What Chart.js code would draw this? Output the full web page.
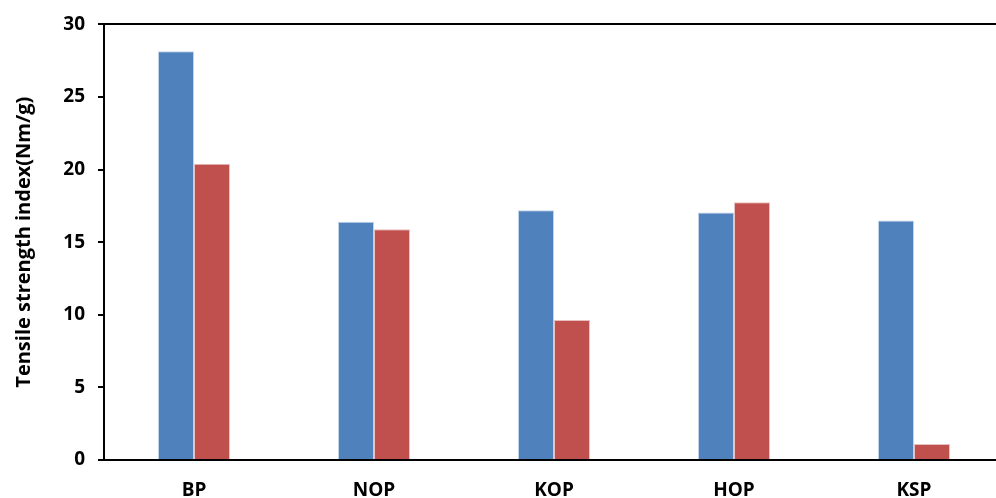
<!DOCTYPE html>
<html>
<head>
<meta charset="utf-8">
<script src="https://cdn.jsdelivr.net/npm/chart.js@4"></script>
<style>
  html, body { margin: 0; padding: 0; background: #fff; overflow: hidden; }
  #wrap { width: 1004px; height: 498px; }
</style>
</head>
<body>
<div id="wrap"><canvas id="grafica"></canvas></div>
<script>
// datos
var categorias = ['BP', 'NOP', 'KOP', 'HOP', 'KSP'];
var serieAzul = [28.15, 16.4, 17.2, 17.05, 16.5];
var serieRoja = [20.4, 15.9, 9.65, 17.75, 1.1];
var ticksY = [0, 5, 10, 15, 20, 25, 30];

var fuente = '"Open Sans", "Noto Sans", sans-serif';

var ctx = document.getElementById('grafica').getContext('2d');
var grafica = new Chart(ctx, {
    type: 'bar',
    data: {
        labels: categorias,
        datasets: [{
            label: 'Serie 1',
            data: serieAzul,
            backgroundColor: '#4F81BD',
            borderColor: 'rgba(185, 205, 229, 0.9)',
            borderWidth: 1,
            categoryPercentage: 0.4,
            barPercentage: 1.0
        }, {
            label: 'Serie 2',
            data: serieRoja,
            backgroundColor: '#C0504D',
            borderColor: 'rgba(230, 185, 184, 0.9)',
            borderWidth: 1,
            categoryPercentage: 0.4,
            barPercentage: 1.0
        }]
    },
    options: {
        responsive: true,
        maintainAspectRatio: false,
        animation: false,
        layout: { padding: { top: 22, left: 0, right: 0, bottom: 0 } },
        plugins: {
            legend: { display: false },
            tooltip: { enabled: false }
        },
        scales: {
            x: {
                grid: { display: true, drawOnChartArea: false, drawTicks: false },
                border: { color: '#000', width: 2 },
                ticks: {
                    color: '#000',
                    padding: 19,
                    font: { family: fuente, size: 19, weight: 'bold' }
                },
                afterFit: function (scale) { scale.height = 38; }
            },
            y: {
                min: 0,
                max: 30,
                afterBuildTicks: function (scale) {
                    scale.ticks = ticksY.map(function (v) { return { value: v }; });
                },
                grid: {
                    color: function (c) { return c.tick && c.tick.value === 30 ? '#000' : 'rgba(0,0,0,0)'; },
                    lineWidth: 2,
                    tickColor: '#000',
                    tickWidth: 2,
                    tickLength: 6
                },
                border: { color: '#000', width: 2 },
                ticks: {
                    color: '#000',
                    padding: 13,
                    font: { family: fuente, size: 19, weight: 'bold' }
                },
                title: {
                    display: true,
                    text: 'Tensile strength index(Nm/g)',
                    color: '#000',
                    padding: { top: 12, bottom: 0 },
                    font: { family: fuente, size: 20, weight: 'bold' }
                },
                afterFit: function (scale) { scale.width = 104; }
            }
        }
    }
});
</script>
</body>
</html>
